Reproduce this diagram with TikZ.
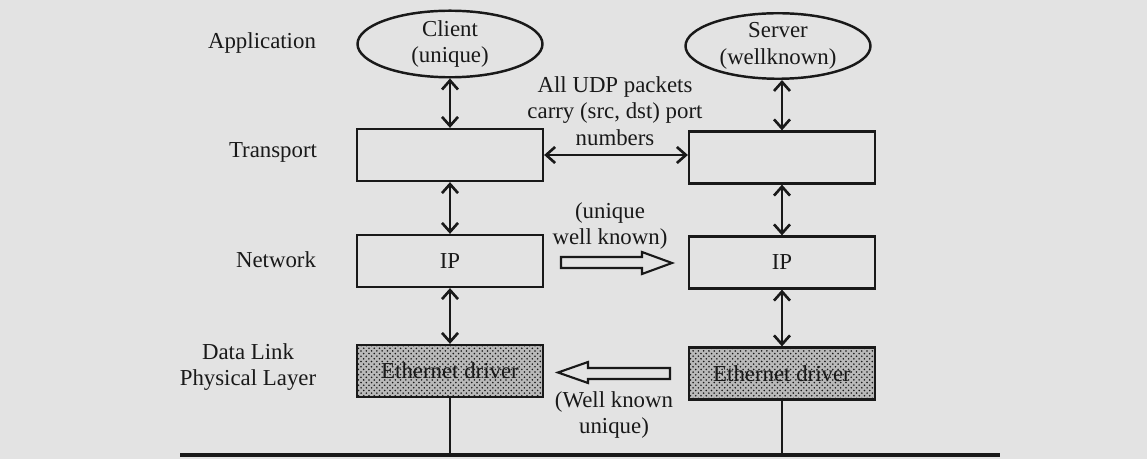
\documentclass[tikz,border=0pt]{standalone}
\usepackage{fontspec}
\setmainfont{Liberation Serif}
\usetikzlibrary{shapes.geometric,arrows.meta,patterns}
\definecolor{paper}{RGB}{227,227,227}
\definecolor{ink}{RGB}{25,25,25}
\begin{document}
\begin{tikzpicture}[
  x=0.02cm, y=-0.02cm,
  font=\fontsize{13}{15}\selectfont,
  text=ink,
  >={Straight Barb[length=1.8mm,width=3.2mm,line width=1.5pt]},
  layerbox/.style={draw=ink, line width=1.3pt, minimum width=3.72cm,
    minimum height=1.04cm, inner sep=0pt},
  endpt/.style={ellipse, draw=ink, line width=1.4pt, minimum width=3.7cm,
    minimum height=1.16cm, inner sep=0pt, align=center},
  driver/.style={layerbox, fill=gray!55,
    postaction={pattern=crosshatch dots, pattern color=ink}},
  link/.style={<->, draw=ink, line width=1.1pt},
  wire/.style={draw=ink, line width=1.1pt},
  hollow/.style={draw=ink, line width=1.2pt, line join=miter},
  lbl/.style={align=center, inner sep=0pt}
]
% page background and bounding box
\fill[paper] (0,0) rectangle (1147,459);
\useasboundingbox (0,0) rectangle (1147,459);

% layer names
\node[lbl] (lapp) at (262,43)  {Application};
\node[lbl] (ltrn) at (273,152) {Transport};
\node[lbl] (lnet) at (276,260) {Network};
\node[lbl] (ldl)  at (248,367) {Data Link\\Physical Layer};

% client stack
\node[endpt]  (cl) at (450,44)  {Client\\(unique)};
\node[layerbox] (lt) at (450,155) {};
\node[layerbox] (li) at (450,261) {IP};
\node[driver]   (le) at (450,371) {Ethernet driver};

% server stack
\node[endpt]  (sv) at (778,46)  {Server\\(wellknown)};
\node[layerbox] (rt) at (782,157.5) {};
\node[layerbox] (ri) at (782,262.5) {IP};
\node[driver]   (re) at (782,373.5) {Ethernet driver};

% vertical links between layers
\draw[link] (cl.south) -- (lt.north);
\draw[link] (lt.south) -- (li.north);
\draw[link] (li.south) -- (le.north);
\draw[link] (sv.south -| rt.north) -- (rt.north);
\draw[link] (rt.south) -- (ri.north);
\draw[link] (ri.south) -- (re.north);

% shared medium
\coordinate (busL) at (180,455);
\coordinate (busR) at (1000,455);
\draw[draw=ink, line width=1.8pt] (busL) -- (busR);
\draw[wire] (le.south) -- (le.south |- busL);
\draw[wire] (re.south) -- (re.south |- busL);

% transport peer link
\draw[link] (lt.east |- 0,155) -- (rt.west |- 0,155);
\node[lbl] (udp) at (615,111) {All UDP packets\\carry (src, dst) port\\numbers};

% network-level port exchange
\node[lbl] (nq) at (610,226) {(unique\\well known)};
\draw[hollow] (561,257) -- (642,257) -- (642,252) -- (672,263)
  -- (642,274) -- (642,268) -- (561,268) -- cycle;

% link-level port exchange
\draw[hollow] (670,368) -- (588,368) -- (588,362) -- (558,372.5)
  -- (588,383) -- (588,379) -- (670,379) -- cycle;
\node[lbl] (lq) at (614,415) {(Well known\\unique)};
\end{tikzpicture}
\end{document}
